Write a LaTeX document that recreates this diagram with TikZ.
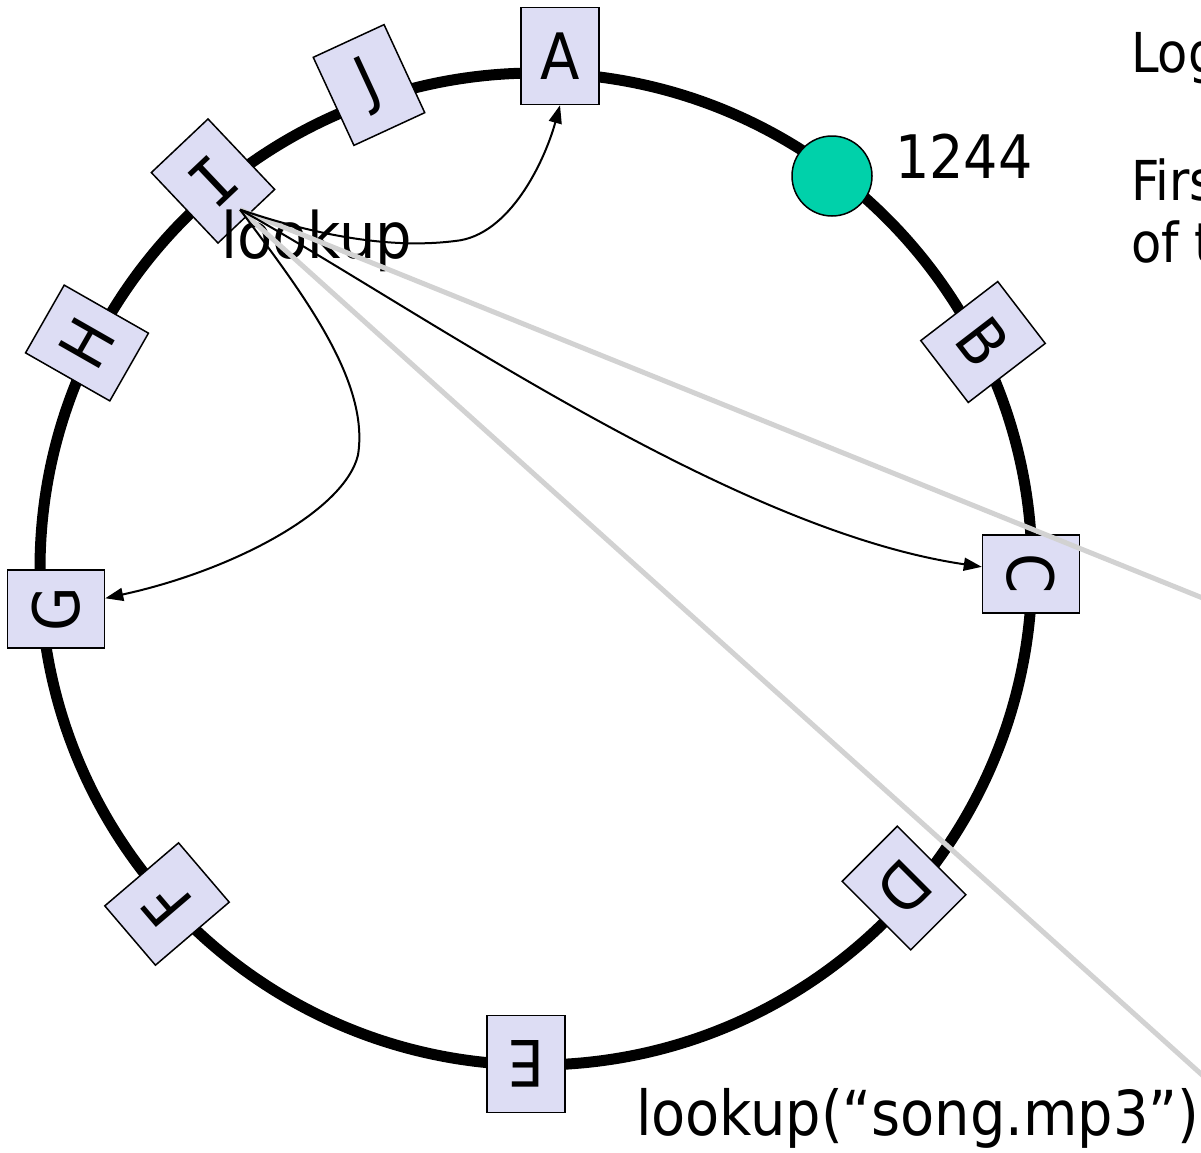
\documentclass[tikz,border=0pt]{standalone}
\usepackage{fontspec}
\setmainfont{DejaVu Sans Condensed}
\newfontfamily\serifI{DejaVu Sans Mono}
\usetikzlibrary{arrows.meta,calc}
\definecolor{peerfill}{RGB}{221,221,244}
\definecolor{keyfill}{RGB}{0,209,170}
\tikzset{
  peer/.style={draw,fill=peerfill,line width=1.5pt,minimum width=78pt,minimum height=97pt,inner sep=0pt,font=\fontsize{64}{64}\selectfont},
  big/.style={inner sep=0pt,font=\fontsize{64}{64}\selectfont},
  side/.style={inner sep=0pt,anchor=base west,font=\fontsize{55}{55}\selectfont},
  hop/.style={line width=2pt,-{Triangle[length=18pt,width=13pt]}},
  route/.style={line width=5pt,color=gray!35}
}
\begin{document}
\begin{tikzpicture}[x=1pt,y=-1pt]
\useasboundingbox (0,0) rectangle (1201,1152);
\clip (0,0) rectangle (1201,1152);
% the ring
\draw[line width=11pt] (536,569) circle (496);
% peers on the ring
\node[peer,rotate=0] (A) at (560,56) {A};
\node[peer,rotate=-52.5] (B) at (983,342) {B};
\node[peer,rotate=-90] (C) at (1031,574) {C};
\node[peer,rotate=225] (D) at (904,888) {D};
\node[peer,rotate=180] (E) at (526,1064) {E};
\node[peer,rotate=130.5] (F) at (167,904) {F};
\node[peer,rotate=90] (G) at (56,609) {G};
\node[peer,rotate=60.3] (H) at (87,343) {H};
\node[peer,rotate=43.4] (I) at (213,181) {\serifI I};
\node[peer,rotate=24.8] (J) at (369,85) {J};
% the key
\node[circle,draw,fill=keyfill,line width=1.5pt,minimum size=80pt,inner sep=0pt] (key) at (832,176) {};
\node[inner sep=0pt,anchor=base west,font=\fontsize{60}{60}\selectfont] (keyid) at (895,178) {1244};
\node[big,anchor=base west] (lk) at (221,258) {lookup};
\node[inner sep=0pt,anchor=base west,font=\fontsize{62}{62}\selectfont] (query) at (636,1135) {lookup(“song.mp3”)};
\node[side] (t1) at (1131,72) {Log};
\node[side] (t2) at (1131,200) {Firs};
\node[side] (t3) at (1131,262) {of t};
% lookups leaving I
\coordinate (hub) at ($(I)!0.8!(I.south)$);
\coordinate (farC) at (1230,609);
\coordinate (farD) at (1230,1100);
\draw[route] (hub) -- (farC);
\draw[route] (hub) -- (farD);
\draw[hop] (hub) .. controls (330,240) and (400,248) .. (455,241) .. controls (510,236) and (545,160) .. (A.south);
\draw[hop] (hub) .. controls (300,290) and (370,380) .. (358,455) .. controls (345,510) and (235,570) .. (G);
\draw[hop] (hub) .. controls (420,310) and (730,530) .. (C);
\end{tikzpicture}
\end{document}
